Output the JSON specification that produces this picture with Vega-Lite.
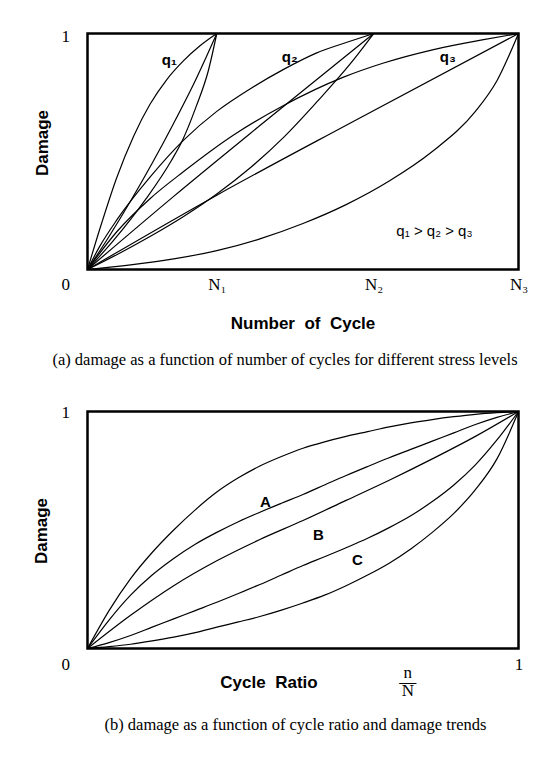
{
  "$schema": "https://vega.github.io/schema/vega-lite/v6.json",
  "background": "white",
  "padding": {"left": 30.5, "top": 25.5, "right": 0, "bottom": 0},
  "spacing": 142,
  "bounds": "flush",
  "datasets": {
    "curvesA": [
      {"curve": "q1a", "n": 0, "d": 0}, {"curve": "q1a", "n": 0.03, "d": 0.18}, {"curve": "q1a", "n": 0.068, "d": 0.39}, {"curve": "q1a", "n": 0.107, "d": 0.565}, {"curve": "q1a", "n": 0.145, "d": 0.7}, {"curve": "q1a", "n": 0.184, "d": 0.805}, {"curve": "q1a", "n": 0.223, "d": 0.885}, {"curve": "q1a", "n": 0.261, "d": 0.948}, {"curve": "q1a", "n": 0.3, "d": 1},
      {"curve": "q1b", "n": 0, "d": 0}, {"curve": "q1b", "n": 0.05, "d": 0.14}, {"curve": "q1b", "n": 0.1, "d": 0.29}, {"curve": "q1b", "n": 0.15, "d": 0.45}, {"curve": "q1b", "n": 0.2, "d": 0.62}, {"curve": "q1b", "n": 0.25, "d": 0.8}, {"curve": "q1b", "n": 0.3, "d": 1},
      {"curve": "q1c", "n": 0, "d": 0}, {"curve": "q1c", "n": 0.059, "d": 0.12}, {"curve": "q1c", "n": 0.136, "d": 0.3}, {"curve": "q1c", "n": 0.194, "d": 0.46}, {"curve": "q1c", "n": 0.221, "d": 0.55}, {"curve": "q1c", "n": 0.252, "d": 0.69}, {"curve": "q1c", "n": 0.28, "d": 0.84}, {"curve": "q1c", "n": 0.3, "d": 1},
      {"curve": "q2a", "n": 0, "d": 0}, {"curve": "q2a", "n": 0.029, "d": 0.1}, {"curve": "q2a", "n": 0.068, "d": 0.21}, {"curve": "q2a", "n": 0.145, "d": 0.391}, {"curve": "q2a", "n": 0.223, "d": 0.548}, {"curve": "q2a", "n": 0.3, "d": 0.67}, {"curve": "q2a", "n": 0.377, "d": 0.765}, {"curve": "q2a", "n": 0.455, "d": 0.848}, {"curve": "q2a", "n": 0.532, "d": 0.918}, {"curve": "q2a", "n": 0.609, "d": 0.967}, {"curve": "q2a", "n": 0.664, "d": 1},
      {"curve": "q2b", "n": 0, "d": 0}, {"curve": "q2b", "n": 0.2, "d": 0.31}, {"curve": "q2b", "n": 0.4, "d": 0.61}, {"curve": "q2b", "n": 0.664, "d": 1},
      {"curve": "q2c", "n": 0, "d": 0}, {"curve": "q2c", "n": 0.07, "d": 0.065}, {"curve": "q2c", "n": 0.145, "d": 0.14}, {"curve": "q2c", "n": 0.223, "d": 0.225}, {"curve": "q2c", "n": 0.3, "d": 0.32}, {"curve": "q2c", "n": 0.377, "d": 0.43}, {"curve": "q2c", "n": 0.455, "d": 0.56}, {"curve": "q2c", "n": 0.532, "d": 0.71}, {"curve": "q2c", "n": 0.609, "d": 0.87}, {"curve": "q2c", "n": 0.664, "d": 1},
      {"curve": "q3a", "n": 0, "d": 0}, {"curve": "q3a", "n": 0.068, "d": 0.16}, {"curve": "q3a", "n": 0.145, "d": 0.3}, {"curve": "q3a", "n": 0.223, "d": 0.415}, {"curve": "q3a", "n": 0.339, "d": 0.57}, {"curve": "q3a", "n": 0.455, "d": 0.695}, {"curve": "q3a", "n": 0.594, "d": 0.815}, {"curve": "q3a", "n": 0.687, "d": 0.875}, {"curve": "q3a", "n": 0.803, "d": 0.932}, {"curve": "q3a", "n": 0.919, "d": 0.974}, {"curve": "q3a", "n": 1, "d": 1},
      {"curve": "q3b", "n": 0, "d": 0}, {"curve": "q3b", "n": 0.3, "d": 0.315}, {"curve": "q3b", "n": 0.609, "d": 0.62}, {"curve": "q3b", "n": 1, "d": 1},
      {"curve": "q3c", "n": 0, "d": 0}, {"curve": "q3c", "n": 0.1, "d": 0.02}, {"curve": "q3c", "n": 0.2, "d": 0.045}, {"curve": "q3c", "n": 0.3, "d": 0.08}, {"curve": "q3c", "n": 0.4, "d": 0.13}, {"curve": "q3c", "n": 0.5, "d": 0.195}, {"curve": "q3c", "n": 0.6, "d": 0.275}, {"curve": "q3c", "n": 0.7, "d": 0.375}, {"curve": "q3c", "n": 0.8, "d": 0.5}, {"curve": "q3c", "n": 0.9, "d": 0.67}, {"curve": "q3c", "n": 0.95, "d": 0.8}, {"curve": "q3c", "n": 1, "d": 1}
    ],
    "curvesB": [
      {"curve": "c1", "n": 0, "d": 0}, {"curve": "c1", "n": 0.05, "d": 0.16}, {"curve": "c1", "n": 0.1, "d": 0.295}, {"curve": "c1", "n": 0.15, "d": 0.405}, {"curve": "c1", "n": 0.2, "d": 0.5}, {"curve": "c1", "n": 0.25, "d": 0.585}, {"curve": "c1", "n": 0.3, "d": 0.66}, {"curve": "c1", "n": 0.35, "d": 0.72}, {"curve": "c1", "n": 0.4, "d": 0.77}, {"curve": "c1", "n": 0.45, "d": 0.81}, {"curve": "c1", "n": 0.5, "d": 0.845}, {"curve": "c1", "n": 0.55, "d": 0.872}, {"curve": "c1", "n": 0.6, "d": 0.895}, {"curve": "c1", "n": 0.65, "d": 0.915}, {"curve": "c1", "n": 0.7, "d": 0.935}, {"curve": "c1", "n": 0.75, "d": 0.952}, {"curve": "c1", "n": 0.8, "d": 0.966}, {"curve": "c1", "n": 0.85, "d": 0.978}, {"curve": "c1", "n": 0.9, "d": 0.988}, {"curve": "c1", "n": 0.95, "d": 0.995}, {"curve": "c1", "n": 1, "d": 1},
      {"curve": "c2", "n": 0, "d": 0}, {"curve": "c2", "n": 0.05, "d": 0.12}, {"curve": "c2", "n": 0.1, "d": 0.225}, {"curve": "c2", "n": 0.15, "d": 0.31}, {"curve": "c2", "n": 0.2, "d": 0.38}, {"curve": "c2", "n": 0.25, "d": 0.44}, {"curve": "c2", "n": 0.3, "d": 0.49}, {"curve": "c2", "n": 0.35, "d": 0.535}, {"curve": "c2", "n": 0.4, "d": 0.575}, {"curve": "c2", "n": 0.45, "d": 0.613}, {"curve": "c2", "n": 0.5, "d": 0.65}, {"curve": "c2", "n": 0.55, "d": 0.69}, {"curve": "c2", "n": 0.6, "d": 0.73}, {"curve": "c2", "n": 0.65, "d": 0.768}, {"curve": "c2", "n": 0.7, "d": 0.805}, {"curve": "c2", "n": 0.75, "d": 0.84}, {"curve": "c2", "n": 0.8, "d": 0.875}, {"curve": "c2", "n": 0.85, "d": 0.91}, {"curve": "c2", "n": 0.9, "d": 0.945}, {"curve": "c2", "n": 0.95, "d": 0.975}, {"curve": "c2", "n": 1, "d": 1},
      {"curve": "c3", "n": 0, "d": 0}, {"curve": "c3", "n": 0.1, "d": 0.14}, {"curve": "c3", "n": 0.2, "d": 0.265}, {"curve": "c3", "n": 0.3, "d": 0.37}, {"curve": "c3", "n": 0.4, "d": 0.46}, {"curve": "c3", "n": 0.5, "d": 0.54}, {"curve": "c3", "n": 0.6, "d": 0.625}, {"curve": "c3", "n": 0.7, "d": 0.71}, {"curve": "c3", "n": 0.8, "d": 0.8}, {"curve": "c3", "n": 0.9, "d": 0.895}, {"curve": "c3", "n": 1, "d": 1},
      {"curve": "c4", "n": 0, "d": 0}, {"curve": "c4", "n": 0.05, "d": 0.025}, {"curve": "c4", "n": 0.1, "d": 0.055}, {"curve": "c4", "n": 0.15, "d": 0.09}, {"curve": "c4", "n": 0.2, "d": 0.125}, {"curve": "c4", "n": 0.25, "d": 0.16}, {"curve": "c4", "n": 0.3, "d": 0.195}, {"curve": "c4", "n": 0.35, "d": 0.232}, {"curve": "c4", "n": 0.4, "d": 0.27}, {"curve": "c4", "n": 0.45, "d": 0.31}, {"curve": "c4", "n": 0.5, "d": 0.35}, {"curve": "c4", "n": 0.55, "d": 0.387}, {"curve": "c4", "n": 0.6, "d": 0.425}, {"curve": "c4", "n": 0.65, "d": 0.465}, {"curve": "c4", "n": 0.7, "d": 0.51}, {"curve": "c4", "n": 0.75, "d": 0.56}, {"curve": "c4", "n": 0.8, "d": 0.62}, {"curve": "c4", "n": 0.85, "d": 0.69}, {"curve": "c4", "n": 0.9, "d": 0.775}, {"curve": "c4", "n": 0.95, "d": 0.88}, {"curve": "c4", "n": 1, "d": 1},
      {"curve": "c5", "n": 0, "d": 0}, {"curve": "c5", "n": 0.05, "d": 0.008}, {"curve": "c5", "n": 0.1, "d": 0.018}, {"curve": "c5", "n": 0.15, "d": 0.032}, {"curve": "c5", "n": 0.2, "d": 0.048}, {"curve": "c5", "n": 0.25, "d": 0.067}, {"curve": "c5", "n": 0.3, "d": 0.09}, {"curve": "c5", "n": 0.35, "d": 0.112}, {"curve": "c5", "n": 0.4, "d": 0.135}, {"curve": "c5", "n": 0.45, "d": 0.162}, {"curve": "c5", "n": 0.5, "d": 0.192}, {"curve": "c5", "n": 0.55, "d": 0.225}, {"curve": "c5", "n": 0.6, "d": 0.265}, {"curve": "c5", "n": 0.65, "d": 0.31}, {"curve": "c5", "n": 0.7, "d": 0.36}, {"curve": "c5", "n": 0.75, "d": 0.42}, {"curve": "c5", "n": 0.8, "d": 0.49}, {"curve": "c5", "n": 0.85, "d": 0.57}, {"curve": "c5", "n": 0.9, "d": 0.67}, {"curve": "c5", "n": 0.95, "d": 0.8}, {"curve": "c5", "n": 1, "d": 1}
    ],
    "qLabels": [
      {"t": "q₁", "n": 0.19, "d": 0.886},
      {"t": "q₂", "n": 0.469, "d": 0.9},
      {"t": "q₃", "n": 0.836, "d": 0.9}
    ],
    "relLabel": [
      {"t": "q₁ > q₂ > q₃", "n": 0.805, "d": 0.165}
    ],
    "abcLabels": [
      {"t": "A", "n": 0.413, "d": 0.617},
      {"t": "B", "n": 0.536, "d": 0.481},
      {"t": "C", "n": 0.626, "d": 0.374}
    ]
  },
  "vconcat": [
    {
      "width": 431,
      "height": 236,
      "title": {"text": "(a) damage as a function of number of cycles for different stress levels", "orient": "bottom", "anchor": "middle", "frame": "group", "font": "Liberation Serif", "fontSize": 16.5, "fontWeight": "normal", "color": "black", "offset": 20, "dx": -18},
      "layer": [
        {
          "data": {"name": "curvesA"},
          "mark": {"type": "line", "interpolate": "monotone", "color": "black", "strokeWidth": 1.2},
          "encoding": {
            "x": {"field": "n", "type": "quantitative", "scale": {"domain": [0, 1], "nice": false, "zero": false},
              "axis": {"values": [0.3, 0.664, 1], "labelExpr": "datum.value < 0.5 ? 'N₁' : (datum.value < 0.8 ? 'N₂' : 'N₃')", "labelPadding": 15, "labelBaseline": "middle", "title": "Number\u00a0 of\u00a0 Cycle", "titleX": 215, "titleY": 54, "titleAlign": "center", "titleBaseline": "middle"}},
            "y": {"field": "d", "type": "quantitative", "scale": {"domain": [0, 1], "nice": false, "zero": false},
              "axis": {"values": [0, 1], "format": "d", "labelAlign": "right", "labelBaseline": "middle", "labelPadding": 18, "labelOffset": {"condition": {"test": "datum.value == 0", "value": 15}, "value": 3}, "title": "Damage", "titleX": -45, "titleY": 109, "titleAngle": -90, "titleAlign": "center", "titleBaseline": "middle"}},
            "detail": {"field": "curve"}
          }
        },
        {
          "data": {"name": "qLabels"},
          "mark": {"type": "text", "font": "Liberation Sans", "fontWeight": "bold", "fontSize": 15, "color": "black"},
          "encoding": {
            "x": {"field": "n", "type": "quantitative"},
            "y": {"field": "d", "type": "quantitative"},
            "text": {"field": "t"}
          }
        },
        {
          "data": {"name": "relLabel"},
          "mark": {"type": "text", "font": "Liberation Sans", "fontWeight": "normal", "fontSize": 15, "color": "black"},
          "encoding": {
            "x": {"field": "n", "type": "quantitative"},
            "y": {"field": "d", "type": "quantitative"},
            "text": {"field": "t"}
          }
        }
      ]
    },
    {
      "width": 431,
      "height": 237,
      "title": {"text": "(b) damage as a function of cycle ratio and damage trends", "orient": "bottom", "anchor": "middle", "frame": "group", "font": "Liberation Serif", "fontSize": 16.5, "fontWeight": "normal", "color": "black", "offset": 18, "dx": -7.5},
      "layer": [
        {
          "data": {"name": "curvesB"},
          "mark": {"type": "line", "interpolate": "monotone", "color": "black", "strokeWidth": 1.2},
          "encoding": {
            "x": {"field": "n", "type": "quantitative", "scale": {"domain": [0, 1], "nice": false, "zero": false},
              "axis": {"values": [0.742, 1], "labelExpr": "datum.value == 1 ? '1' : ['n', '—', 'N']", "labelLineHeight": 9, "labelPadding": {"condition": {"test": "datum.value == 1", "value": 16}, "value": 24}, "labelBaseline": "middle", "title": "Cycle\u00a0 Ratio", "titleX": 181, "titleY": 34, "titleAlign": "center", "titleBaseline": "middle"}},
            "y": {"field": "d", "type": "quantitative", "scale": {"domain": [0, 1], "nice": false, "zero": false},
              "axis": {"values": [0, 1], "format": "d", "labelAlign": "right", "labelBaseline": "middle", "labelPadding": 18, "labelOffset": {"condition": {"test": "datum.value == 0", "value": 16}, "value": 1}, "title": "Damage", "titleX": -46, "titleY": 119, "titleAngle": -90, "titleAlign": "center", "titleBaseline": "middle"}},
            "detail": {"field": "curve"}
          }
        },
        {
          "data": {"name": "abcLabels"},
          "mark": {"type": "text", "font": "Liberation Sans", "fontWeight": "bold", "fontSize": 15, "color": "black"},
          "encoding": {
            "x": {"field": "n", "type": "quantitative"},
            "y": {"field": "d", "type": "quantitative"},
            "text": {"field": "t"}
          }
        }
      ]
    }
  ],
  "config": {
    "view": {"stroke": "black", "strokeWidth": 2.5},
    "axis": {"domain": false, "ticks": false, "tickSize": 0, "grid": false, "labelFlush": false, "labelOverlap": false, "labelFont": "Liberation Serif", "labelFontSize": 17, "labelColor": "black", "titleFont": "Liberation Sans", "titleFontSize": 17, "titleFontWeight": "bold", "titleColor": "black"}
  }
}
